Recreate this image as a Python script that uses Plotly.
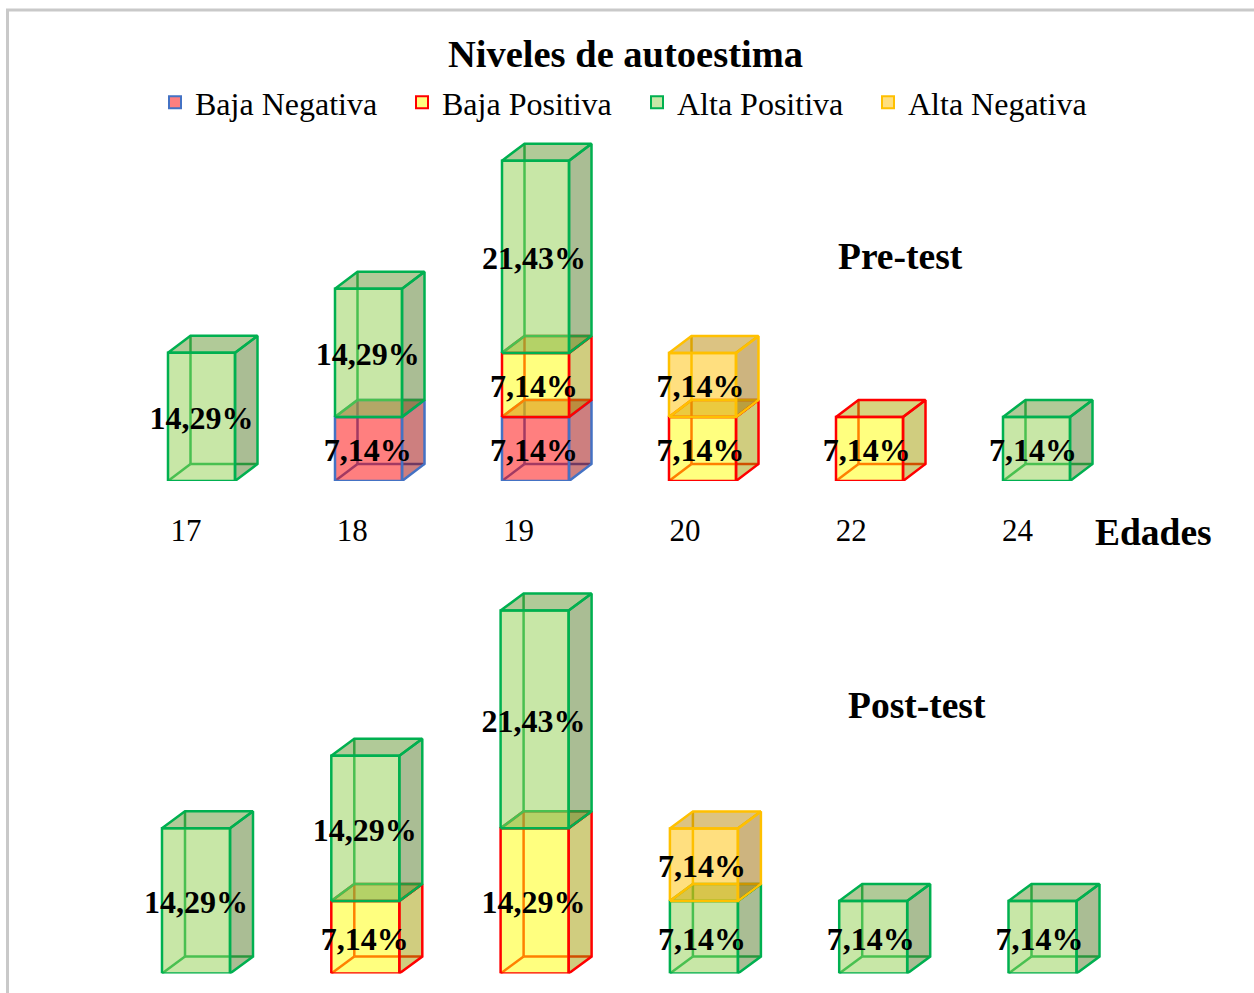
import plotly.graph_objects as go

ages = ["17", "18", "19", "20", "22", "24"]
series_names = ["Baja Negativa", "Baja Positiva", "Alta Positiva", "Alta Negativa"]

pre_baja_negativa = [0, 7.14, 7.14, 0, 0, 0]
pre_baja_positiva = [0, 0, 7.14, 7.14, 7.14, 0]
pre_alta_positiva = [14.29, 14.29, 21.43, 0, 0, 7.14]
pre_alta_negativa = [0, 0, 0, 7.14, 0, 0]

post_baja_negativa = [0, 0, 0, 0, 0, 0]
post_baja_positiva = [0, 7.14, 14.29, 0, 0, 0]
post_alta_positiva = [14.29, 14.29, 21.43, 7.14, 7.14, 7.14]
post_alta_negativa = [0, 0, 0, 7.14, 0, 0]

W, H = 1254, 993
FONT = "Liberation Serif"
LINE = ["#4472C4", "#FF0000", "#00B050", "#FFC000"]
FRONT = ["rgba(255,0,0,0.5)", "rgba(255,255,0,0.5)", "rgba(146,208,80,0.5)", "rgba(255,192,0,0.5)"]
RIGHT = ["rgba(155,0,0,0.5)", "rgba(161,155,0,0.5)", "rgba(85,123,41,0.5)", "rgba(155,105,0,0.5)"]
TOP = ["rgba(175,0,0,0.5)", "rgba(175,170,0,0.5)", "rgba(100,150,50,0.5)", "rgba(185,135,5,0.5)"]
DY = 17
LEGEND_X = [155, 402, 637, 868]
LEGEND_Y = 102.5
LABEL_DROP = 4.5

fig = go.Figure()


def panel(xaxis, yaxis, series, first_px, step_px, base_px, px_per_unit, top_px, bar_w, depth, label_pitch):
    """Draw one panel of stacked pseudo-3D boxes through its own axes."""
    bw = bar_w / step_px / 2
    dx = depth / step_px
    dy = DY / px_per_unit

    def face(xs, ys, line, fill=None):
        fig.add_trace(go.Scatter(
            x=xs, y=ys, xaxis=xaxis, yaxis=yaxis, mode="lines",
            line=dict(color=line, width=2.5), fill="toself" if fill else None,
            fillcolor=fill, showlegend=False, hoverinfo="skip", cliponaxis=False))

    lx, ly, lt = [], [], []
    for i in range(len(ages)):
        y0 = 0
        for s, vals in enumerate(series):
            v = vals[i]
            if not v:
                continue
            y1 = y0 + v
            a, b = i - bw, i + bw
            # hidden edges
            face([a + dx, b + dx], [y0 + dy, y0 + dy], LINE[s])
            face([a + dx, a + dx], [y0 + dy, y1 + dy], LINE[s])
            face([a, a + dx], [y0, y0 + dy], LINE[s])
            # visible faces
            face([b, b + dx, b + dx, b, b], [y0, y0 + dy, y1 + dy, y1, y0], LINE[s], RIGHT[s])
            face([a, a + dx, b + dx, b, a], [y1, y1 + dy, y1 + dy, y1, y1], LINE[s], TOP[s])
            face([a, b, b, a, a], [y0, y0, y1, y1, y0], LINE[s], FRONT[s])
            lx.append(i * label_pitch)
            ly.append((y0 + y1) / 2 - LABEL_DROP / px_per_unit)
            lt.append(f"{v:.2f}%".replace(".", ","))
            y0 = y1
    fig.add_trace(go.Scatter(
        x=lx, y=ly, text=lt, xaxis=xaxis, yaxis=yaxis, mode="text",
        textposition="middle center",
        textfont=dict(family=FONT, size=32, color="black", weight="bold"),
        showlegend=False, hoverinfo="skip", cliponaxis=False))
    x_range = [(0 - first_px) / step_px, (W - first_px) / step_px]
    y_range = [0, (base_px - top_px) / px_per_unit]
    y_domain = [(H - base_px) / H, (H - top_px) / H]
    return x_range, y_range, y_domain


PRE_PITCH = 166.3 / 167
pre = panel("x", "y", [pre_baja_negativa, pre_baja_positiva, pre_alta_positiva, pre_alta_negativa],
            201.5, 167, 481, 8.97, 0, 67, 22.5, PRE_PITCH)
post = panel("x2", "y2", [post_baja_negativa, post_baja_positiva, post_alta_positiva, post_alta_negativa],
             196, 169.3, 973.5, 10.16, 516, 68, 23, 168.7 / 169.3)

for s, name in enumerate(series_names):
    fig.add_trace(go.Scatter(
        x=[None], y=[None], mode="markers", name=name,
        legend="legend" if s == 0 else f"legend{s + 1}",
        marker=dict(symbol="square", size=16, color=FRONT[s], line=dict(color=LINE[s], width=2))))

legends = {}
for s in range(4):
    legends["legend" if s == 0 else f"legend{s + 1}"] = dict(
        x=LEGEND_X[s] / W, y=1 - LEGEND_Y / H, xanchor="left", yanchor="middle",
        bgcolor="rgba(0,0,0,0)", font=dict(family=FONT, size=32, color="black"),
        itemsizing="constant", itemwidth=30)


def label(text, px, py, size=37.5):
    return dict(text=f"<b>{text}</b>", x=px / W, y=1 - py / H, xref="paper", yref="paper",
                xanchor="center", yanchor="middle", showarrow=False,
                font=dict(family=FONT, size=size, color="black"))


fig.update_layout(
    width=W, height=H, margin=dict(l=0, r=0, t=0, b=0),
    paper_bgcolor="white", plot_bgcolor="rgba(0,0,0,0)",
    title=dict(text="<b>Niveles de autoestima</b>", x=625.5 / W, y=1 - 54 / H, xref="paper", yref="paper",
               xanchor="center", yanchor="middle", font=dict(family=FONT, size=38.5, color="black")),
    xaxis=dict(range=pre[0], domain=[0, 1], anchor="y", showgrid=False, zeroline=False, showline=False,
               tickmode="array", tickvals=[i * PRE_PITCH - 15.5 / 167 for i in range(len(ages))], ticktext=ages,
               ticks="", ticklabelstandoff=28, tickfont=dict(family=FONT, size=31, color="black")),
    yaxis=dict(range=pre[1], domain=pre[2], anchor="x", visible=False),
    xaxis2=dict(range=post[0], domain=[0, 1], anchor="y2", visible=False),
    yaxis2=dict(range=post[1], domain=post[2], anchor="x2", visible=False),
    annotations=[label("Pre-test", 900, 256), label("Post-test", 917, 705), label("Edades", 1153, 532)],
    shapes=[
        dict(type="line", xref="paper", yref="paper", x0=7.5 / W, x1=7.5 / W, y0=0, y1=1 - 10 / H,
             line=dict(color="#C9C9C9", width=3)),
        dict(type="line", xref="paper", yref="paper", x0=6 / W, x1=1, y0=1 - 10 / H, y1=1 - 10 / H,
             line=dict(color="#C9C9C9", width=3)),
    ],
    **legends,
)

fig.write_html("out.html", config={"displayModeBar": False},
               post_script="document.body.style.margin='0';document.body.style.overflow='hidden';")
